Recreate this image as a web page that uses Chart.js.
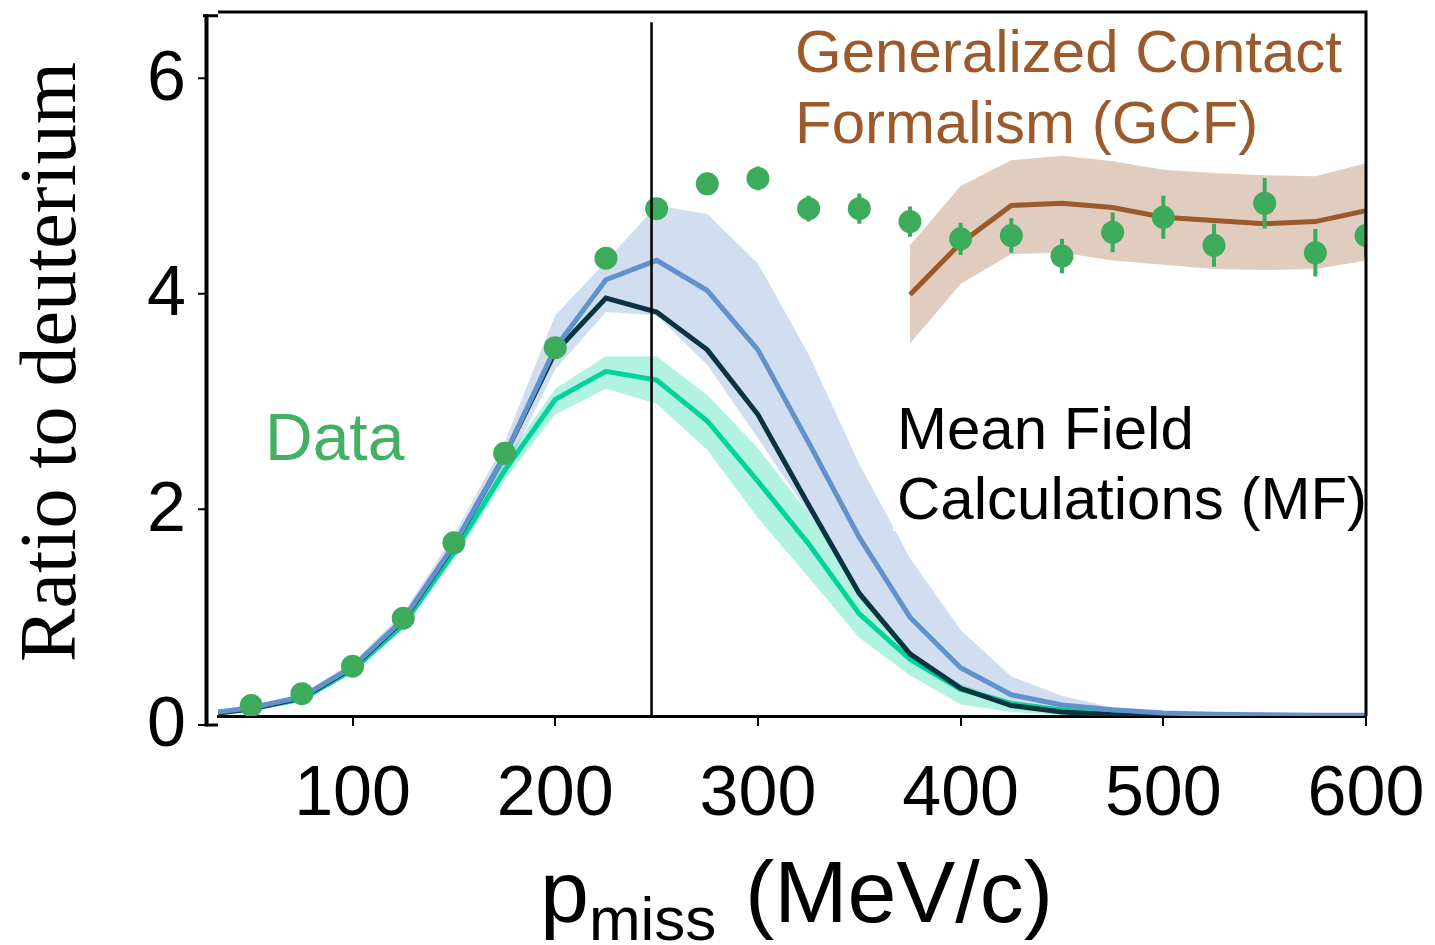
<!DOCTYPE html>
<html>
<head>
<meta charset="utf-8">
<script src="https://cdn.jsdelivr.net/npm/chart.js@4.4.1/dist/chart.umd.min.js"></script>
<style>
  html, body { margin: 0; padding: 0; background: #fff; }
  #wrap { width: 1435px; height: 945px; }
</style>
</head>
<body>
<div id="wrap"><canvas id="chart" width="1435" height="945"></canvas></div>
<script>
// mean field curves, every 25 MeV/c
const mfX = [25, 50, 75, 100, 125, 150, 175, 200, 225, 250, 275, 300, 325, 350, 375, 400, 425, 450, 475, 500, 525, 550, 575, 600];
const mfBlue   = [0.10, 0.16, 0.26, 0.54, 0.98, 1.67, 2.50, 3.50, 4.13, 4.31, 4.03, 3.48, 2.62, 1.74, 1.00, 0.53, 0.28, 0.185, 0.14, 0.11, 0.10, 0.095, 0.09, 0.09];
const mfBlueHi = [0.11, 0.18, 0.29, 0.58, 1.04, 1.76, 2.62, 3.80, 4.30, 4.82, 4.74, 4.28, 3.44, 2.42, 1.55, 0.88, 0.45, 0.27, 0.16, 0.12, 0.105, 0.10, 0.095, 0.09];
const mfBlueLo = [0.085, 0.14, 0.23, 0.50, 0.92, 1.58, 2.35, 3.30, 3.83, 3.80, 3.34, 2.66, 1.96, 1.22, 0.62, 0.32, 0.17, 0.11, 0.09, 0.085, 0.085, 0.085, 0.085, 0.085];
const mfDark   = [0.09, 0.15, 0.25, 0.53, 0.97, 1.66, 2.50, 3.46, 3.96, 3.83, 3.48, 2.88, 2.04, 1.22, 0.66, 0.34, 0.18, 0.12, 0.095, 0.085, 0.084, 0.084, 0.084, 0.084];
const mfTeal   = [0.09, 0.15, 0.24, 0.51, 0.93, 1.60, 2.36, 3.02, 3.28, 3.20, 2.82, 2.26, 1.68, 1.03, 0.61, 0.33, 0.20, 0.14, 0.10, 0.09, 0.085, 0.085, 0.085, 0.085];
const mfTealHi = [0.095, 0.16, 0.26, 0.54, 0.97, 1.66, 2.45, 3.12, 3.42, 3.42, 3.06, 2.57, 1.96, 1.25, 0.68, 0.38, 0.22, 0.15, 0.11, 0.09, 0.087, 0.087, 0.087, 0.087];
const mfTealLo = [0.085, 0.14, 0.22, 0.48, 0.89, 1.54, 2.27, 2.88, 3.12, 2.98, 2.55, 1.92, 1.37, 0.81, 0.46, 0.19, 0.12, 0.09, 0.085, 0.084, 0.084, 0.084, 0.084, 0.084];

// generalized contact formalism
const gcfX  = [375, 400, 425, 450, 475, 500, 525, 550, 575, 600];
const gcf   = [3.99, 4.47, 4.82, 4.84, 4.80, 4.71, 4.68, 4.65, 4.67, 4.77];
const gcfHi = [4.45, 5.00, 5.24, 5.28, 5.23, 5.15, 5.12, 5.10, 5.09, 5.21];
const gcfLo = [3.54, 4.09, 4.37, 4.38, 4.31, 4.27, 4.23, 4.22, 4.23, 4.31];

// measured ratio
const dataX = [50, 75, 100, 125, 150, 175, 200, 225, 250, 275, 300, 325, 350, 375, 400, 425, 450, 475, 500, 525, 550, 575, 600];
const dataY = [0.18, 0.29, 0.545, 0.99, 1.69, 2.52, 3.50, 4.33, 4.79, 5.02, 5.07, 4.79, 4.79, 4.67, 4.51, 4.54, 4.35, 4.57, 4.71, 4.45, 4.84, 4.38, 4.54];
const dataErr = [0.01, 0.01, 0.02, 0.02, 0.03, 0.04, 0.05, 0.06, 0.07, 0.08, 0.11, 0.12, 0.14, 0.14, 0.15, 0.16, 0.16, 0.185, 0.2, 0.2, 0.235, 0.22, 0.2];

const xTicks = [100, 200, 300, 400, 500, 600];
const yTicks = [0, 2, 4, 6];
const cutX = 247.5;

const SANS = '"Liberation Sans", Arial, Helvetica, sans-serif';
const SERIF = '"Liberation Serif", "Times New Roman", serif';
const GREEN = '#3dab5c';
const BROWN = '#9b5a2b';

const pts = (xs, ys) => xs.map((x, i) => ({ x: x, y: ys[i] }));

function band(xs, ys, color, order) {
  return { data: pts(xs, ys), borderColor: 'rgba(0,0,0,0)', borderWidth: 0, pointRadius: 0,
           backgroundColor: color, fill: '+1', order: order, clip: 0 };
}
function edge(xs, ys, order) {
  return { data: pts(xs, ys), borderColor: 'rgba(0,0,0,0)', borderWidth: 0, pointRadius: 0,
           fill: false, order: order, clip: 0 };
}
function curve(xs, ys, color, order) {
  return { data: pts(xs, ys), borderColor: color, borderWidth: 5, pointRadius: 0,
           fill: false, tension: 0, order: order, clip: 0 };
}

const extras = {
  id: 'extras',
  afterDatasetsDraw(chart) {
    const ctx = chart.ctx, xs = chart.scales.x, ys = chart.scales.y, a = chart.chartArea;
    ctx.save();
    // error bars
    ctx.save();
    ctx.beginPath();
    ctx.rect(a.left, a.top, a.right - a.left, a.bottom - a.top);
    ctx.clip();
    ctx.strokeStyle = GREEN;
    ctx.lineWidth = 4;
    dataX.forEach((x, i) => {
      const px = xs.getPixelForValue(x);
      ctx.beginPath();
      ctx.moveTo(px, ys.getPixelForValue(dataY[i] - dataErr[i]));
      ctx.lineTo(px, ys.getPixelForValue(dataY[i] + dataErr[i]));
      ctx.stroke();
    });
    ctx.restore();

    // annotations (text box masks the band behind it)
    ctx.textAlign = 'left';
    ctx.textBaseline = 'alphabetic';
    ctx.fillStyle = '#fff';
    ctx.fillRect(893, 400, a.right - 893, 131);
    ctx.fillStyle = '#000';
    ctx.font = '60px ' + SANS;
    ctx.fillText('Mean Field', 897, 449);
    ctx.fillText('Calculations (MF)', 897, 519);

    ctx.fillStyle = BROWN;
    ctx.font = '60px ' + SANS;
    ctx.fillText('Generalized Contact', 795, 72);
    ctx.fillText('Formalism (GCF)', 795, 143);

    ctx.fillStyle = '#45b064';
    ctx.font = '66px ' + SANS;
    ctx.fillText('Data', 265, 460);

    // vertical cut line
    ctx.strokeStyle = '#000';
    ctx.lineWidth = 2.5;
    ctx.beginPath();
    ctx.moveTo(xs.getPixelForValue(cutX), ys.getPixelForValue(6.52));
    ctx.lineTo(xs.getPixelForValue(cutX), a.bottom);
    ctx.stroke();

    // frame top and right
    ctx.lineWidth = 3;
    ctx.beginPath();
    ctx.moveTo(a.left, a.top + 0.5);
    ctx.lineTo(a.right + 1.5, a.top + 0.5);
    ctx.moveTo(a.right, a.top);
    ctx.lineTo(a.right, a.bottom);
    ctx.stroke();

    // offset y spine
    const sx = 206.5;
    const y0 = ys.getPixelForValue(0), yTop = ys.getPixelForValue(6.58);
    ctx.lineWidth = 4;
    ctx.beginPath();
    ctx.moveTo(sx, yTop - 1.5);
    ctx.lineTo(sx, y0 + 1.5);
    ctx.stroke();
    ctx.lineWidth = 3;
    ctx.beginPath();
    ctx.moveTo(203, yTop);
    ctx.lineTo(a.left, yTop);
    ctx.moveTo(sx, y0);
    ctx.lineTo(a.left, y0);
    ctx.stroke();
    ctx.lineWidth = 2;
    ctx.beginPath();
    yTicks.forEach(v => {
      const py = ys.getPixelForValue(v);
      ctx.moveTo(198, py);
      ctx.lineTo(sx, py);
    });
    ctx.stroke();

    ctx.fillStyle = '#000';
    ctx.font = '70px ' + SANS;
    ctx.textAlign = 'right';
    ctx.textBaseline = 'middle';
    yTicks.forEach(v => ctx.fillText(String(v), 186, ys.getPixelForValue(v) + 2));

    // y title
    ctx.save();
    ctx.translate(75, 362);
    ctx.rotate(-Math.PI / 2);
    ctx.font = '80px ' + SERIF;
    ctx.textAlign = 'center';
    ctx.textBaseline = 'alphabetic';
    ctx.fillText('Ratio to deuterium', 0, 0);
    ctx.restore();

    // x title with subscript
    ctx.textAlign = 'left';
    ctx.textBaseline = 'alphabetic';
    let tx = 540;
    ctx.font = '88px ' + SANS;
    ctx.fillText('p', tx, 922);
    tx += ctx.measureText('p').width;
    ctx.font = '62px ' + SANS;
    ctx.fillText('miss', tx, 940);
    ctx.font = '88px ' + SANS;
    ctx.fillText('(MeV/c)', 745, 922);
    ctx.restore();
  }
};

new Chart(document.getElementById('chart'), {
  type: 'line',
  data: {
    datasets: [
      band(mfX, mfBlueHi, 'rgba(98,145,205,0.3)', 10),
      edge(mfX, mfBlueLo, 11),
      band(mfX, mfTealHi, 'rgba(0,212,154,0.3)', 8),
      edge(mfX, mfTealLo, 9),
      band(gcfX, gcfHi, 'rgba(156,90,43,0.3)', 6),
      edge(gcfX, gcfLo, 7),
      curve(mfX, mfTeal, '#00d49a', 5),
      curve(mfX, mfDark, '#0b3443', 4),
      curve(mfX, mfBlue, '#6292cc', 3),
      curve(gcfX, gcf, BROWN, 2),
      { data: pts(dataX, dataY), showLine: false, pointRadius: 11.5, pointBorderWidth: 0,
        pointBackgroundColor: GREEN, borderColor: GREEN, order: 1, clip: 0 }
    ]
  },
  options: {
    responsive: false,
    animation: false,
    devicePixelRatio: 1,
    layout: { padding: { left: 218, right: 69, top: 8, bottom: 0 } },
    plugins: { legend: { display: false }, tooltip: { enabled: false } },
    scales: {
      x: {
        type: 'linear', min: 33.6, max: 600,
        afterBuildTicks: s => { s.ticks = xTicks.map(v => ({ value: v })); },
        afterFit: s => { s.height = 229; s.paddingLeft = 0; s.paddingRight = 0; },
        border: { display: true, color: '#000', width: 3 },
        grid: { display: true, drawOnChartArea: false, drawTicks: true, tickLength: 10, color: '#000', lineWidth: 2 },
        ticks: { color: '#000', padding: 28, font: { family: SANS, size: 70 }, maxRotation: 0 }
      },
      y: {
        type: 'linear', min: 0.083, max: 6.619, display: false
      }
    }
  },
  plugins: [extras]
});
</script>
</body>
</html>
